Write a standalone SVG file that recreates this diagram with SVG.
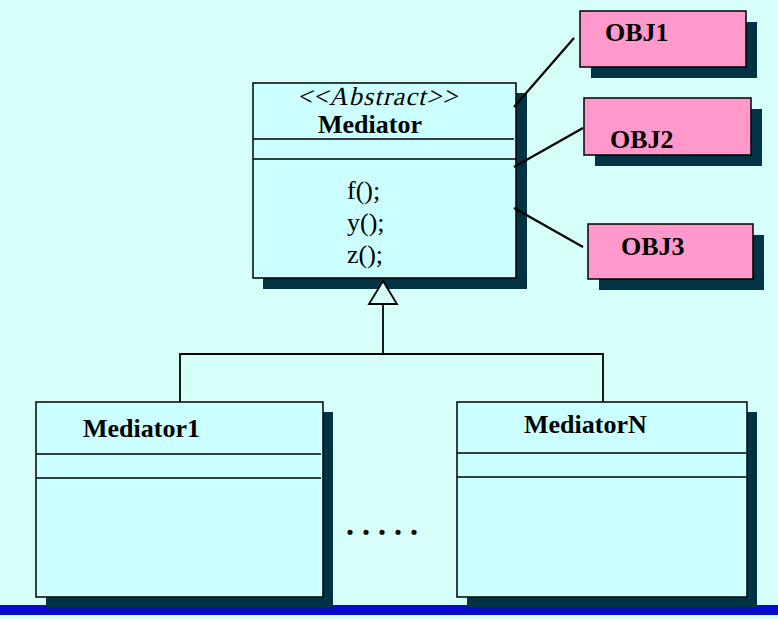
<svg xmlns="http://www.w3.org/2000/svg" width="778" height="619" viewBox="0 0 778 619">
<style>
.bg{fill:#D5FFF8}
.shadow{fill:#003344}
.cls{fill:#CCFFFF;stroke:#000;stroke-width:1.5}
.obj{fill:#FF99CC;stroke:#000;stroke-width:1.5}
.sep{stroke:#000;stroke-width:1.5}
.b{font-family:"Liberation Serif","Times New Roman",serif;font-weight:bold;font-size:26px;fill:#000}
.r{font-family:"Liberation Serif","Times New Roman",serif;font-size:26px;fill:#000}
.i{font-family:"Liberation Serif","Times New Roman",serif;font-size:26px;fill:#000}
.c{fill:none;stroke:#000;stroke-width:1.8}
.l{fill:none;stroke:#000;stroke-width:2.2}
</style>
<rect class="bg" x="0" y="0" width="778" height="619"/>
<rect x="0" y="605" width="778" height="10" fill="#0A0ACC"/>

<g id="Mediator">
<rect class="shadow" x="263" y="93" width="264" height="196"/>
<rect class="cls" x="253" y="83" width="263" height="195"/>
<line class="sep" x1="253" y1="139" x2="514" y2="139"/>
<line class="sep" x1="253" y1="159" x2="516" y2="159"/>
<g transform="translate(377,105) skewX(-14)">
<text class="i" x="-80" y="0" textLength="160" lengthAdjust="spacing">&lt;&lt;Abstract&gt;&gt;</text>
</g>
<text class="b" x="318" y="133">Mediator</text>
<text class="r" x="347" y="199">f();</text>
<text class="r" x="347" y="231">y();</text>
<text class="r" x="347" y="263">z();</text>
</g>

<g id="OBJ1">
<rect class="shadow" x="591" y="22" width="166" height="56"/>
<rect class="obj" x="580" y="11" width="166" height="56"/>
<text class="b" x="605" y="41">OBJ1</text>
</g>
<g id="OBJ2">
<rect class="shadow" x="595" y="109" width="167" height="57"/>
<rect class="obj" x="584" y="98" width="167" height="57"/>
<text class="b" x="610" y="148">OBJ2</text>
</g>
<g id="OBJ3">
<rect class="shadow" x="599" y="235" width="165" height="55"/>
<rect class="obj" x="588" y="224" width="165" height="55"/>
<text class="b" x="621" y="255">OBJ3</text>
</g>

<g id="Mediator1">
<rect class="shadow" x="46" y="412" width="287" height="195"/>
<rect class="cls" x="36" y="402" width="287" height="195"/>
<line class="sep" x1="36" y1="454" x2="321" y2="454"/>
<line class="sep" x1="36" y1="478" x2="321" y2="478"/>
<text class="b" x="83" y="437">Mediator1</text>
</g>

<g id="MediatorN">
<rect class="shadow" x="467" y="412" width="290" height="195"/>
<rect class="cls" x="457" y="402" width="290" height="195"/>
<line class="sep" x1="457" y1="453" x2="746" y2="453"/>
<line class="sep" x1="457" y1="477" x2="746" y2="477"/>
<text class="b" x="524" y="433">MediatorN</text>
</g>

<text id="dots" class="b" x="346" y="535" style="font-size:32px" letter-spacing="8">.....</text>

<g id="connectors">
<polyline class="c" points="180,402 180,354 603,354 603,402"/>
<line class="c" x1="383" y1="354" x2="383" y2="304"/>
<polygon points="383,281 397,304 369,304" fill="#D5FFF8" stroke="#000" stroke-width="1.8"/>
<line class="l" x1="514" y1="107" x2="574" y2="38"/>
<line class="l" x1="514" y1="167" x2="583" y2="128"/>
<line class="l" x1="514" y1="208" x2="583" y2="247"/>
</g>
</svg>
